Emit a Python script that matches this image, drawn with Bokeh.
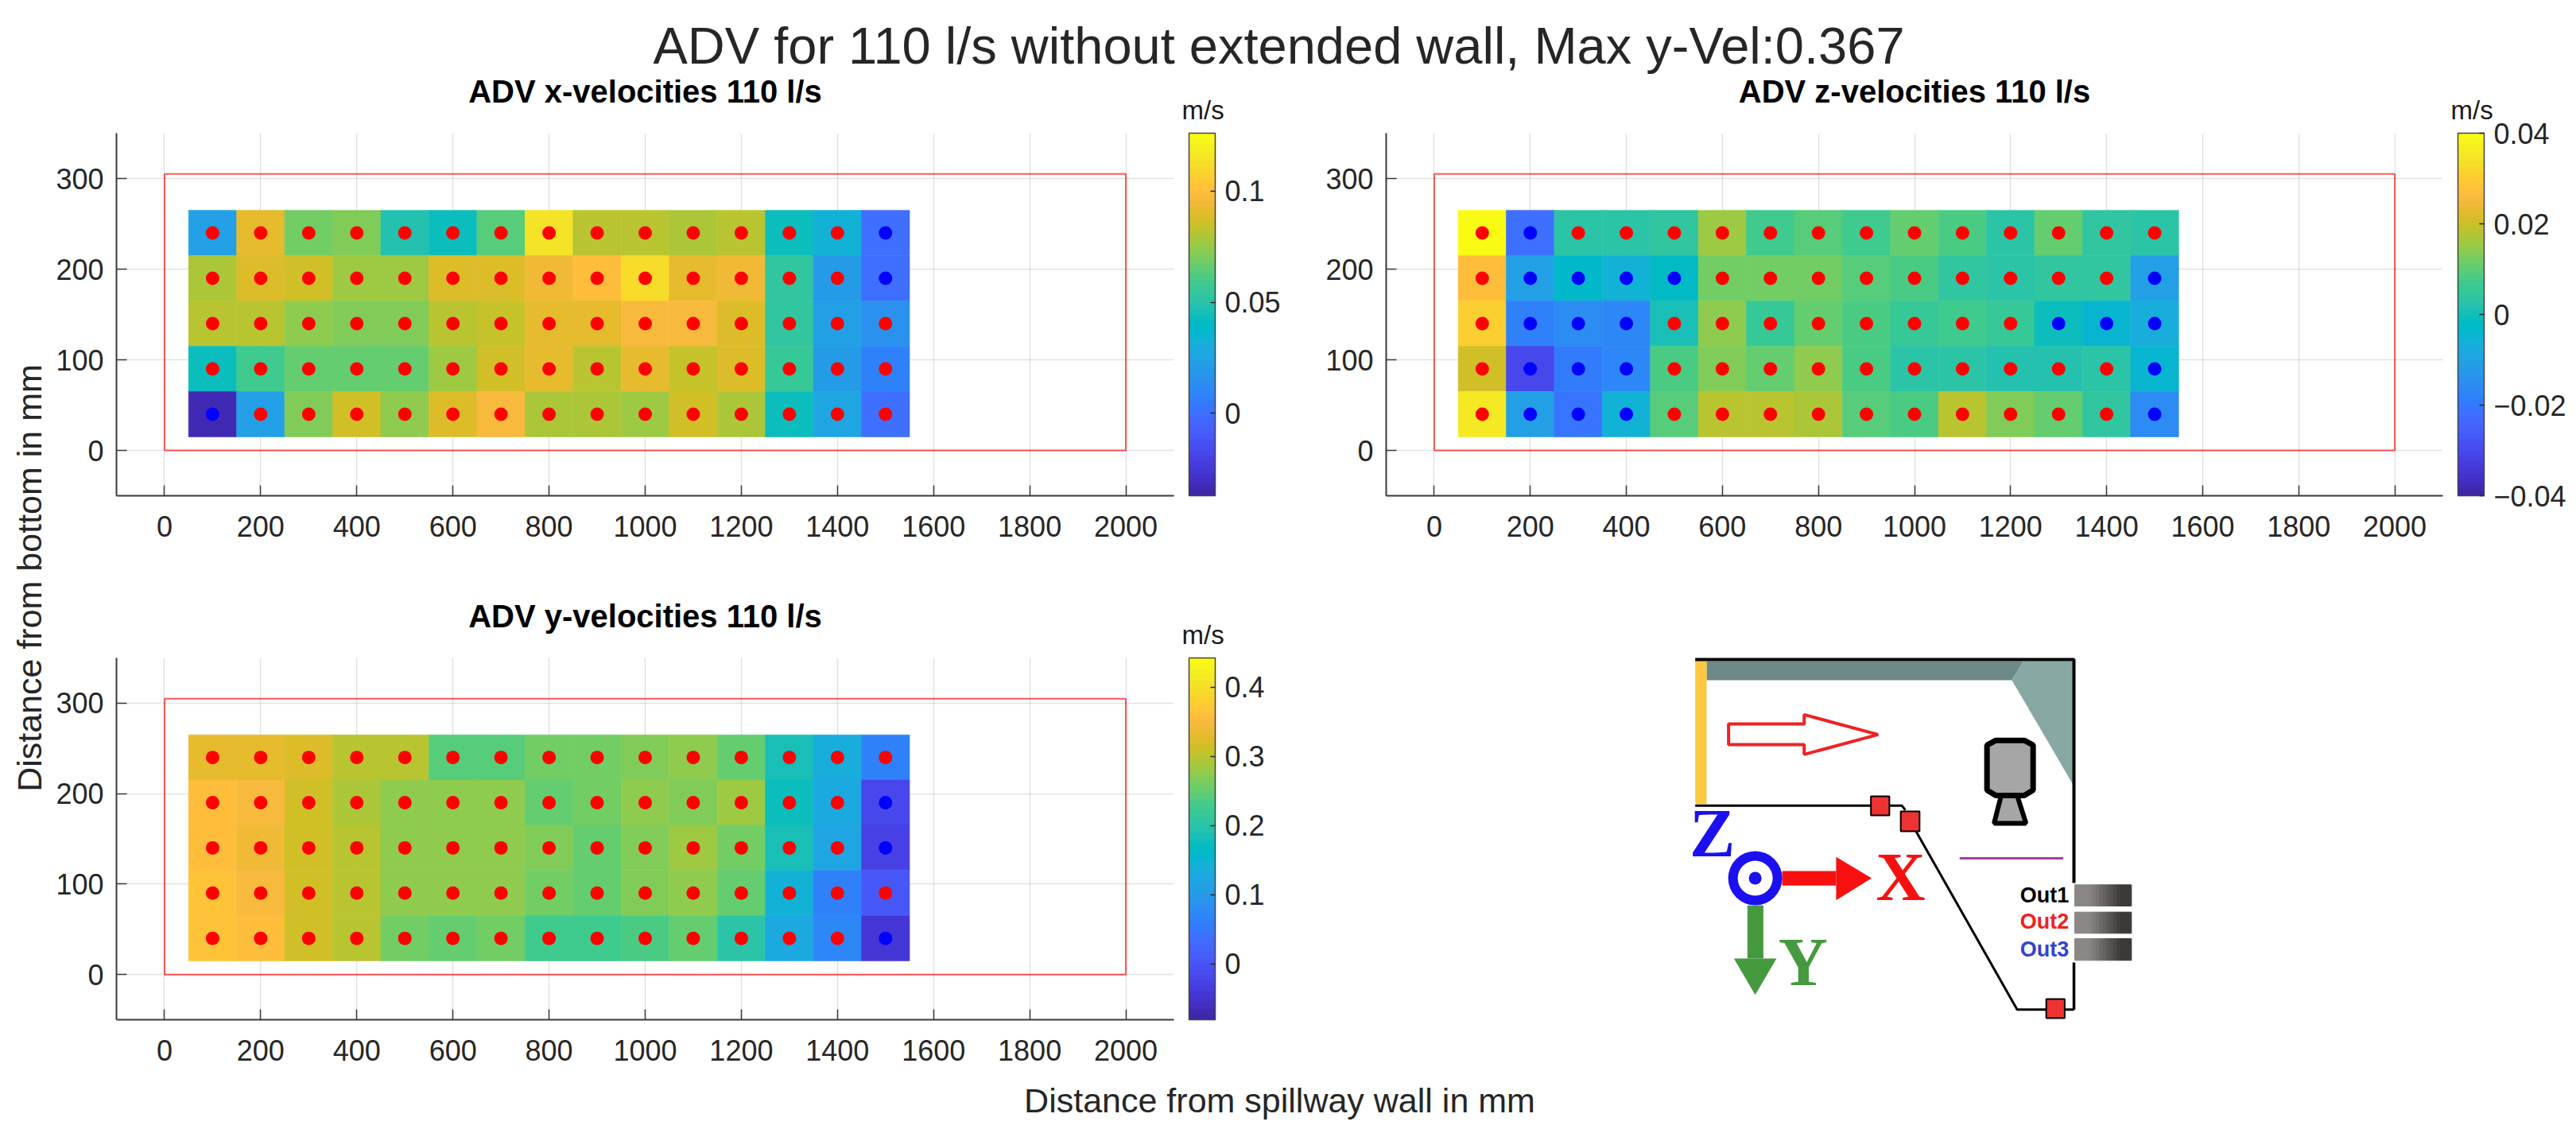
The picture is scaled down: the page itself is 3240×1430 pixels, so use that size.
import numpy as np
from bokeh.plotting import figure
from bokeh.layouts import row, column
from bokeh.embed import file_html
from bokeh.resources import INLINE
from bokeh.core.properties import value
from bokeh.models import (ColumnDataSource, ColorBar, FixedTicker, LinearColorMapper, Range1d, Title)
from bokeh.transform import transform

# ---------- data ----------
distance_mm = [100, 200, 300, 400, 500, 600, 700, 800, 900, 1000, 1100, 1200, 1300, 1400, 1500]
height_mm = [240, 190, 140, 90, 40]

vel_x = [
    [.0233, .0918, .0681, .0714, .0494, .0445, .0624, .1146, .0804, .0804, .0787, .0804, .0429, .0331, -.0011],
    [.0787, .0885, .0853, .0771, .0771, .0885, .0885, .0942, .0999, .1113, .0918, .0934, .0543, .0201, -.0011],
    [.0820, .0820, .0730, .0714, .0714, .0812, .0828, .0910, .0918, .0975, .0975, .0885, .0527, .0225, .0152],
    [.0437, .0575, .0649, .0649, .0649, .0755, .0853, .0918, .0804, .0918, .0828, .0885, .0567, .0201, .0070],
    [-.0337, .0217, .0706, .0869, .0730, .0885, .0967, .0787, .0795, .0755, .0869, .0795, .0421, .0249, .0007],
]
vel_z = [
    [.0400, -.0224, .0032, .0032, .0040, .0156, .0072, .0096, .0072, .0112, .0076, .0036, .0104, .0040, .0032],
    [.0268, -.0112, -.0032, -.0056, -.0024, .0116, .0124, .0120, .0088, .0076, .0048, .0032, .0048, .0040, -.0112],
    [.0308, -.0184, -.0152, -.0168, .0008, .0144, .0056, .0108, .0080, .0060, .0064, .0052, -.0008, -.0040, -.0072],
    [.0204, -.0312, -.0192, -.0168, .0076, .0136, .0104, .0140, .0080, .0028, .0028, .0024, .0024, .0032, -.0048],
    [.0352, -.0112, -.0204, -.0060, .0088, .0184, .0176, .0172, .0088, .0076, .0180, .0136, .0104, .0040, -.0152],
]
vel_y = [
    [.3323, .3297, .3244, .3009, .3009, .2408, .2408, .2565, .2591, .2696, .2722, .2539, .1860, .1337, .0658],
    [.3532, .3453, .3140, .2931, .2748, .2748, .2774, .2539, .2617, .2774, .2670, .2800, .1729, .1285, -.0230],
    [.3532, .3401, .3192, .3035, .2748, .2748, .2748, .2670, .2513, .2644, .2800, .2617, .1860, .1233, -.0283],
    [.3610, .3506, .3192, .3035, .2748, .2748, .2748, .2591, .2539, .2670, .2722, .2539, .1442, .0606, .0083],
    [.3670, .3532, .3140, .2957, .2565, .2513, .2617, .2252, .2252, .2330, .2539, .2043, .1285, .0710, -.0439],
]
flume_x = [0, 2000, 2000, 0, 0]
flume_y = [0, 0, 305, 305, 0]
x_ticks = [0, 200, 400, 600, 800, 1000, 1200, 1400, 1600, 1800, 2000]
y_ticks = [0, 100, 200, 300]

MAIN_TITLE = "ADV for 110 l/s without extended wall, Max y-Vel:0.367"
XLABEL = "Distance from spillway wall in mm"
YLABEL = "Distance from bottom in mm"

# ---------- style ----------
PARULA_RGB = [
[0.2422,0.1504,0.6603],[0.2504,0.1650,0.7076],[0.2578,0.1818,0.7511],[0.2647,0.1978,0.7952],
[0.2706,0.2147,0.8364],[0.2751,0.2342,0.8710],[0.2783,0.2559,0.8991],[0.2803,0.2782,0.9221],
[0.2813,0.3006,0.9414],[0.2810,0.3228,0.9579],[0.2795,0.3447,0.9717],[0.2760,0.3667,0.9829],
[0.2699,0.3892,0.9906],[0.2602,0.4123,0.9952],[0.2440,0.4358,0.9988],[0.2206,0.4603,0.9973],
[0.1963,0.4847,0.9892],[0.1834,0.5074,0.9798],[0.1786,0.5289,0.9682],[0.1764,0.5499,0.9520],
[0.1687,0.5703,0.9359],[0.1540,0.5902,0.9218],[0.1460,0.6091,0.9079],[0.1380,0.6276,0.8973],
[0.1248,0.6459,0.8883],[0.1113,0.6635,0.8763],[0.0952,0.6798,0.8598],[0.0689,0.6948,0.8394],
[0.0297,0.7082,0.8163],[0.0036,0.7203,0.7917],[0.0067,0.7312,0.7660],[0.0433,0.7411,0.7394],
[0.0964,0.7500,0.7120],[0.1408,0.7584,0.6842],[0.1717,0.7670,0.6554],[0.1938,0.7758,0.6251],
[0.2161,0.7843,0.5923],[0.2470,0.7918,0.5567],[0.2906,0.7973,0.5188],[0.3406,0.8008,0.4789],
[0.3909,0.8029,0.4354],[0.4456,0.8024,0.3909],[0.5044,0.7993,0.3480],[0.5616,0.7942,0.3045],
[0.6174,0.7876,0.2612],[0.6720,0.7793,0.2227],[0.7242,0.7698,0.1910],[0.7738,0.7598,0.1646],
[0.8203,0.7498,0.1535],[0.8634,0.7406,0.1596],[0.9035,0.7330,0.1774],[0.9393,0.7288,0.2100],
[0.9728,0.7298,0.2394],[0.9956,0.7434,0.2371],[0.9970,0.7659,0.2199],[0.9952,0.7893,0.2028],
[0.9892,0.8136,0.1885],[0.9786,0.8386,0.1766],[0.9676,0.8639,0.1643],[0.9610,0.8890,0.1537],
[0.9597,0.9135,0.1423],[0.9628,0.9373,0.1265],[0.9691,0.9606,0.1064],[0.9769,0.9839,0.0805]]
PARULA = ["#%02x%02x%02x" % tuple(int(round(c * 255)) for c in rgb) for rgb in PARULA_RGB]

FONT = "Liberation Sans"
SERIF = "Liberation Serif"
DARK = "#262626"


def panel(title, rows, low, high, cb_ticks, overrides, frame_w, frame_h, left, right, top, bottom, unit_off):
    p = figure(frame_width=frame_w, frame_height=frame_h, frame_align=False,
               x_range=Range1d(-100, 2100), y_range=Range1d(-50, 350),
               min_border_left=left, min_border_right=right, min_border_top=top, min_border_bottom=bottom,
               output_backend="svg", toolbar_location=None, tools="", title=title)
    p.title.align = "center"
    p.title.text_font = FONT
    p.title.text_font_size = "40px"
    p.title.text_font_style = "bold"
    p.title.text_color = "#000000"
    p.title.standoff = -61
    p.outline_line_color = None
    for ax, ticks in ((p.xaxis[0], x_ticks), (p.yaxis[0], y_ticks)):
        ax.ticker = FixedTicker(ticks=ticks)
        ax.axis_line_color = "#3a3a3a"
        ax.axis_line_width = 2
        ax.major_tick_in = 13
        ax.major_tick_out = 0
        ax.minor_tick_in = 0
        ax.minor_tick_out = 0
        ax.major_tick_line_color = "#3a3a3a"
        ax.major_tick_line_width = 1.5
        ax.major_label_text_font = FONT
        ax.major_label_text_font_size = "36px"
        ax.major_label_text_color = DARK
    p.xaxis[0].major_label_standoff = 25
    p.yaxis[0].major_label_standoff = 16
    p.yaxis[0].major_label_orientation = "horizontal"
    for g, ticks in ((p.xgrid[0], x_ticks), (p.ygrid[0], y_ticks)):
        g.ticker = FixedTicker(ticks=ticks)
        g.grid_line_color = DARK
        g.grid_line_alpha = 0.13
        g.grid_line_width = 1.5

    mapper = LinearColorMapper(palette=PARULA, low=low, high=high)
    xs, ys, vs, dots = [], [], [], []
    for h, vals in zip(height_mm, rows):
        for d, v in zip(distance_mm, vals):
            xs.append(d); ys.append(h); vs.append(v)
            dots.append("#ff0000" if v >= 0 else "#0000ff")
    src = ColumnDataSource(dict(x=xs, y=ys, v=vs, dot=dots))
    p.rect("x", "y", width=100, height=50, source=src,
           fill_color=transform("v", mapper), line_color=transform("v", mapper), line_width=0.6)
    p.line(flume_x, flume_y, line_color="#ff0000", line_width=2, line_alpha=0.65)
    p.scatter("x", "y", source=src, size=17, color="dot", line_color=None)

    cb = ColorBar(color_mapper=mapper, ticker=FixedTicker(ticks=cb_ticks), width=33, height=frame_h,
                  major_label_overrides=overrides, location=(19, 0), padding=0, margin=0,
                  major_tick_in=6, major_tick_out=0, major_tick_line_color=DARK, major_tick_line_width=1.5,
                  minor_tick_line_color=None, bar_line_color="#444444", bar_line_width=1.5,
                  label_standoff=12, major_label_text_font=FONT, major_label_text_font_size="36px",
                  major_label_text_color=DARK, border_line_color=None, background_fill_color=None)
    p.add_layout(cb, "right")
    p.add_layout(Title(text="m/s", align="left", offset=unit_off, standoff=22, text_font=FONT,
                       text_font_size="33px", text_font_style="normal", text_color="#1a1a1a"), "above")
    return p


p1 = panel("ADV x-velocities 110 l/s", vel_x, -0.037, 0.126, [0, 0.05, 0.1],
           {0: "0", 0.05: "0.05", 0.1: "0.1"}, 1330, 456, 84, 164, 67, 82, 1340)
p2 = panel("ADV z-velocities 110 l/s", vel_z, -0.04, 0.04, [-0.04, -0.02, 0, 0.02, 0.04],
           {-0.04: "\u22120.04", -0.02: "\u22120.02", 0: "0", 0.02: "0.02", 0.04: "0.04"},
           1329, 456, 103, 160, 67, 82, 1339)
p3 = panel("ADV y-velocities 110 l/s", vel_y, -0.0805, 0.4425, [0, 0.1, 0.2, 0.3, 0.4],
           {0: "0", 0.1: "0.1", 0.2: "0.2", 0.3: "0.3", 0.4: "0.4"}, 1330, 455, 84, 164, 122, 68, 1340)


def blank(width, height, xr, yr):
    f = figure(width=width, height=height, x_range=Range1d(*xr), y_range=Range1d(*yr), frame_align=False,
               min_border=0, min_border_left=0, min_border_right=0, min_border_top=0, min_border_bottom=0,
               output_backend="svg", toolbar_location=None, tools="")
    f.outline_line_color = None
    f.xaxis.visible = False
    f.yaxis.visible = False
    f.grid.visible = False
    return f


BASELINE_SHIFT = 0.37  # the svg text baseline sits this many font sizes too low


def put(f, x, y, text, size, color=DARK, style="normal", font=FONT, align="center", unit=1.0):
    f.text([x], [y - BASELINE_SHIFT * size * unit], text=[text], text_align=align, text_baseline="alphabetic",
           text_font=value(font), text_font_size=f"{size}px", text_font_style=style, text_color=color)


# main title and shared labels: coordinates are image pixels
head1 = blank(3170, 92, (62, 3232), (100, 8))
put(head1, 1608, 81, MAIN_TITLE, 65)

bottom_fig = blank(3170, 72, (62, 3232), (1422, 1350))
put(bottom_fig, 1609, 1399, XLABEL, 43)

left_fig = blank(54, 1414, (8, 62), (1422, 8))
left_fig.text([36], [726.5], text=[YLABEL], angle=np.pi / 2, text_align="center", text_baseline="middle",
              text_font=value(FONT), text_font_size="43px", text_color=DARK)

# schematic of the flume: coordinates are those of a 2.24x / 3x enlarged crop
s = blank(1592, 645, (-918.4, 2647.7), (1650, -285))
s.patch([215, 1108, 1075, 215], [93, 93, 165, 165], color="#6f8888", line_color=None)
s.patch([1108, 1248, 1248, 1075], [93, 93, 560, 165], color="#88a8a4", line_color=None)
s.quad(left=[183], right=[215], top=[93], bottom=[632], color="#fdc83f", line_color=None)
s.line([183, 1250, 1250], [87, 87, 930], line_color="black", line_width=4)
s.line([1250, 1250], [1230, 1408], line_color="black", line_width=3.5)
s.line([183, 765, 775], [638, 638, 655], line_color="black", line_width=3)
s.line([805, 1090, 1250], [735, 1408, 1408], line_color="black", line_width=3)
s.quad(left=[678, 762, 1172], right=[730, 815, 1224], top=[603, 660, 1368], bottom=[675, 735, 1440],
       fill_color="#ee3333", line_color="black", line_width=2)
s.patch([277, 490, 490, 698, 490, 490, 277], [330, 330, 295, 370, 445, 408, 408],
        fill_color="white", line_color="#ee2222", line_width=4)
s.patch([1045, 1090, 1115, 1025], [600, 600, 705, 705], fill_color="#a6a6a6", line_color="black", line_width=6)
s.patch([1030, 1110, 1135, 1135, 1110, 1030, 1005, 1005], [392, 392, 410, 580, 600, 600, 580, 410],
        fill_color="#a6a6a6", line_color="black", line_width=7)
s.line([928, 1220], [837, 837], line_color="#a040a0", line_width=3)
s.quad(left=[428], right=[580], top=[885], bottom=[940], color="#f81010", line_color=None)
s.patch([580, 680, 580], [832, 912, 995], color="#f81010", line_color=None)
s.quad(left=[330], right=[375], top=[1015], bottom=[1215], color="#459a40", line_color=None)
s.patch([292, 412, 352], [1215, 1215, 1352], color="#459a40", line_color=None)
s.scatter([352], [912], size=68, color="#1b10f0", line_color=None)
s.scatter([352], [912], size=44, color="white", line_color=None)
s.scatter([352], [912], size=16, color="#1b10f0", line_color=None)
put(s, 231, 838, "Z", 86, "#1b10f0", "bold", SERIF, unit=3.0)
put(s, 762, 1002, "X", 86, "#f81010", "bold", SERIF, unit=3.0)
put(s, 487, 1325, "Y", 86, "#459a40", "bold", SERIF, unit=3.0)
for top, bot in ((937, 1017), (1040, 1120), (1140, 1222)):
    n = 16
    edges = np.linspace(1252, 1412, n + 1)
    shades = [int(138 - (138 - 60) * min(1, max(0, (i / (n - 1) - 0.25) / 0.6))) for i in range(n)]
    strip_colors = ["#%02x%02x%02x" % (g, g - 3, g - 5) for g in shades]
    s.quad(left=edges[:-1], right=edges[1:], top=[top] * n, bottom=[bot] * n,
           fill_color=strip_colors, line_color=strip_colors, line_width=1)
put(s, 1236, 1005, "Out1", 27, "#000000", "bold", align="right", unit=3.0)
put(s, 1236, 1106, "Out2", 27, "#ee2222", "bold", align="right", unit=3.0)
put(s, 1236, 1209, "Out3", 27, "#3344cc", "bold", align="right", unit=3.0)

layout = row(left_fig, column(head1, row(p1, p2), row(p3, s), bottom_fig), margin=(8, 0, 0, 8))
open("out.html", "w").write(file_html(layout, INLINE))
